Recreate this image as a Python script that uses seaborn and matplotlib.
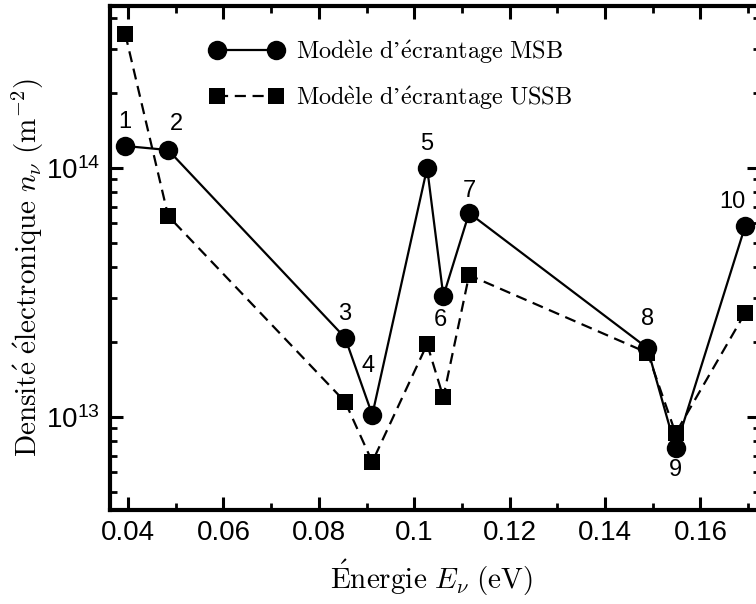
import numpy as np
import pandas as pd
import matplotlib
matplotlib.use('Agg')
import matplotlib.pyplot as plt
import seaborn as sns
from matplotlib.ticker import LogLocator, MultipleLocator, NullFormatter, FuncFormatter

# Data
energy = [0.0394, 0.0484, 0.0855, 0.0912, 0.1027, 0.1061, 0.1115, 0.1489, 0.1548, 0.1694]
density_msb = [1.225e14, 1.18e14, 2.08e13, 1.02e13, 1.0e14, 3.06e13, 6.59e13, 1.89e13, 7.5e12, 5.85e13]
density_ussb = [3.45e14, 6.41e13, 1.15e13, 6.6e12, 1.96e13, 1.2e13, 3.71e13, 1.81e13, 8.6e12, 2.62e13]
level_labels = ['1', '2', '3', '4', '5', '6', '7', '8', '9', '10']
# label offsets (points) for the level numbers
label_offsets = [(0, 17), (6, 19), (0, 17), (-3, 35), (0, 17), (-2, -17), (0, 16), (0, 21), (0, -16), (-9, 17)]

# legend names (Computer Modern via mathtext, accents included)
name_msb = r"$\mathrm{Mod\grave{e}le\ d’\acute{e}crantage\ MSB}$"
name_ussb = r"$\mathrm{Mod\grave{e}le\ d’\acute{e}crantage\ USSB}$"

df = pd.DataFrame({
    'E': energy * 2,
    'n': density_msb + density_ussb,
    'model': [name_msb] * 10 + [name_ussb] * 10,
})

sns.set_theme(style='ticks', rc={
    'xtick.direction': 'in', 'ytick.direction': 'in',
    'xtick.top': True, 'ytick.right': True,
    'xtick.major.size': 9.5, 'ytick.major.size': 9.5,
    'xtick.minor.size': 5, 'ytick.minor.size': 5,
    'xtick.major.width': 2.2, 'ytick.major.width': 2.2,
    'xtick.minor.width': 2.0, 'ytick.minor.width': 2.0,
    'axes.linewidth': 3,
    'mathtext.fontset': 'cm',
    'text.color': 'black', 'axes.labelcolor': 'black',
    'xtick.color': 'black', 'ytick.color': 'black', 'axes.edgecolor': 'black',
})
plt.rcParams['font.family'] = ['Liberation Sans', 'DejaVu Sans']

fig = plt.figure(figsize=(7.56, 6.04), dpi=100)
ax = fig.add_axes([110 / 756, 1 - 510 / 604, 650 / 756, 504 / 604])

sns.lineplot(data=df, x='E', y='n', hue='model', style='model',
             palette=['black', 'black'], markers=['o', 's'],
             dashes=[(None, None), (5, 3)], markersize=14, linewidth=1.6,
             markeredgewidth=0, ax=ax)
# smaller squares for the USSB series
ax.lines[1].set_markersize(11.5)

ax.set_yscale('log')
ax.set_xlim(0.0362, 0.1725)
ax.set_ylim(4.23e12, 4.47e14)
ax.xaxis.set_major_locator(MultipleLocator(0.02))
ax.xaxis.set_minor_locator(MultipleLocator(0.01))
ax.xaxis.set_major_formatter(FuncFormatter(lambda v, p: f'{v:g}'))
ax.yaxis.set_major_locator(LogLocator(base=10))
ax.yaxis.set_minor_locator(LogLocator(base=10, subs=np.arange(2, 10)))
ax.yaxis.set_minor_formatter(NullFormatter())
ax.tick_params(axis='both', which='major', labelsize=20, pad=7)

for x, y, lab, off in zip(energy, density_msb, level_labels, label_offsets):
    ax.annotate(lab, (x, y), xytext=off, textcoords='offset points',
                ha='center', va='center', fontsize=17, color='black')

ax.set_xlabel(r'$\mathrm{\acute{E}nergie}\ E_\nu\ \mathrm{(eV)}$', fontsize=21, va='center')
ax.xaxis.set_label_coords((432 - 110) / 650, -(578 - 510) / 504)
ax.set_ylabel(r'$\mathrm{Densit\acute{e}\ \acute{e}lectronique}\ n_\nu\ \mathrm{(m^{-2})}$',
              fontsize=21, va='center')
ax.yaxis.set_label_coords(-(110 - 28) / 650, (510 - 268) / 504)

leg = ax.legend(loc='upper left', bbox_to_anchor=(0.12, 0.98), frameon=False,
                numpoints=2, handlelength=3.0, handletextpad=0.55, labelspacing=0.75,
                fontsize=17.5)
leg.legend_handles[1].set_markersize(11.5)

fig.savefig('out.png', dpi=100)
